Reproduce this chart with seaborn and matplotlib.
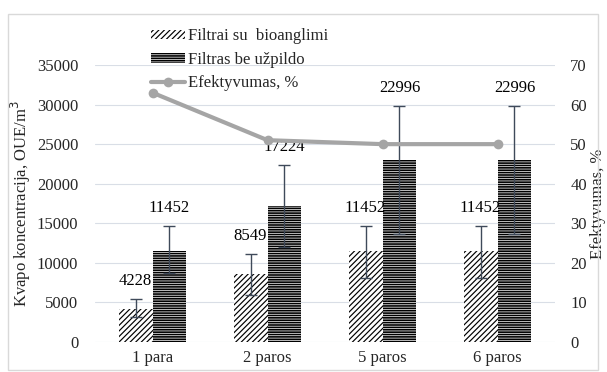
import numpy as np
import pandas as pd
import matplotlib
matplotlib.use("Agg")
import matplotlib.pyplot as plt
import seaborn as sns
from matplotlib.patches import Patch, Rectangle
from matplotlib.lines import Line2D

# data
categories = ['1 para', '2 paros', '5 paros', '6 paros']
series = ['Filtrai su  bioanglimi', 'Filtras be užpildo']
bio = [4228, 8549, 11452, 11452]
bio_err_lo = [1100, 2600, 3350, 3350]
bio_err_hi = [1200, 2570, 3200, 3200]
plain = [11452, 17224, 22996, 22996]
plain_err_lo = [2700, 5200, 9350, 9350]
plain_err_hi = [3200, 5150, 6820, 6820]
efficiency = [63, 51, 50, 50]

sns.set_theme(style="white")
plt.rcParams['font.family'] = ['Liberation Serif', 'DejaVu Serif']

df = pd.DataFrame({
    'kat': categories * 2,
    'serija': [series[0]] * 4 + [series[1]] * 4,
    'verte': bio + plain,
})

fs = 12
hatches = ['//////', '-------']
hatch_lw = [0.85, 1.2]

fig = plt.figure(figsize=(6.07, 3.72), dpi=100)
ax = fig.add_axes([95 / 607, 30 / 372, 460 / 607, 277 / 372])

sns.barplot(data=df, x='kat', y='verte', hue='serija', order=categories,
            hue_order=series, palette=['white', 'white'], width=0.59, gap=0,
            errorbar=None, edgecolor='black', linewidth=0, legend=False, ax=ax)

err_lo = [bio_err_lo, plain_err_lo]
err_hi = [bio_err_hi, plain_err_hi]
vals = [bio, plain]
bar_conts = list(ax.containers)
for i, cont in enumerate(bar_conts):
    xs = []
    for bar in cont:
        bar.set_hatch(hatches[i])
        bar.set_hatch_linewidth(hatch_lw[i])
        bar.set_edgecolor('black')
        bar.set_linewidth(0)
        xs.append(bar.get_x() + bar.get_width() / 2)
    ax.errorbar(xs, vals[i], yerr=[err_lo[i], err_hi[i]], fmt='none',
                ecolor='#3F4A5A', elinewidth=1, capsize=4, capthick=1, zorder=5)
    for x, v, e in zip(xs, vals[i], err_hi[i]):
        ax.annotate(str(v), xy=(x, v + e), xytext=(0, 13), textcoords='offset points',
                    ha='center', va='center', fontsize=fs, color='black', zorder=6)

ax.set_ylim(0, 35000)
ax.set_yticks(range(0, 35001, 5000))
ax.set_xlim(-0.5, 3.5)
ax.grid(axis='y', color='#D9DEE6', linewidth=0.8)
ax.set_axisbelow(True)
ax.set_xlabel('')
ax.set_ylabel('Kvapo koncentracija, OUE/m$^3$', fontsize=fs, labelpad=3)
ax.tick_params(axis='both', length=0, labelsize=fs)
ax.tick_params(axis='y', pad=12)
ax.tick_params(axis='x', pad=6)
for s in ax.spines.values():
    s.set_visible(False)

ax2 = ax.twinx()
sns.lineplot(x=np.arange(len(categories)), y=efficiency, color='#A5A5A5',
             linewidth=3, marker='o', markersize=7, markeredgewidth=0, ax=ax2, zorder=4)
ax2.set_ylim(0, 70)
ax2.set_yticks(range(0, 71, 10))
ax2.set_xlim(-0.5, 3.5)
ax2.set_ylabel('Efektyvumas, %', fontsize=fs, labelpad=2)
ax2.tick_params(axis='y', length=0, labelsize=fs, pad=11)
ax2.grid(False)
for s in ax2.spines.values():
    s.set_visible(False)

handles = [
    Patch(facecolor='white', edgecolor='black', linewidth=0, hatch='//////'),
    Patch(facecolor='white', edgecolor='black', linewidth=0, hatch='-------'),
    Line2D([0], [0], color='#A5A5A5', linewidth=3, marker='o', markersize=7,
           markeredgewidth=0),
]
leg = fig.legend(handles, ['Filtrai su  bioanglimi', 'Filtras be užpildo', 'Efektyvumas, %'],
                 loc='upper left', bbox_to_anchor=(143 / 607, 1 - 20 / 372), frameon=False,
                 fontsize=fs, handlelength=2.0, handleheight=0.5, labelspacing=0.45,
                 handletextpad=0.2, borderpad=0)
for h, lw in zip(leg.get_patches(), hatch_lw):
    h.set_hatch_linewidth(lw)

fig.patches.append(Rectangle((8 / 607, 2 / 372), 590 / 607, 356 / 372, transform=fig.transFigure,
                             fill=False, edgecolor='#D9D9D9', linewidth=1))

fig.savefig('out.png', dpi=100)
